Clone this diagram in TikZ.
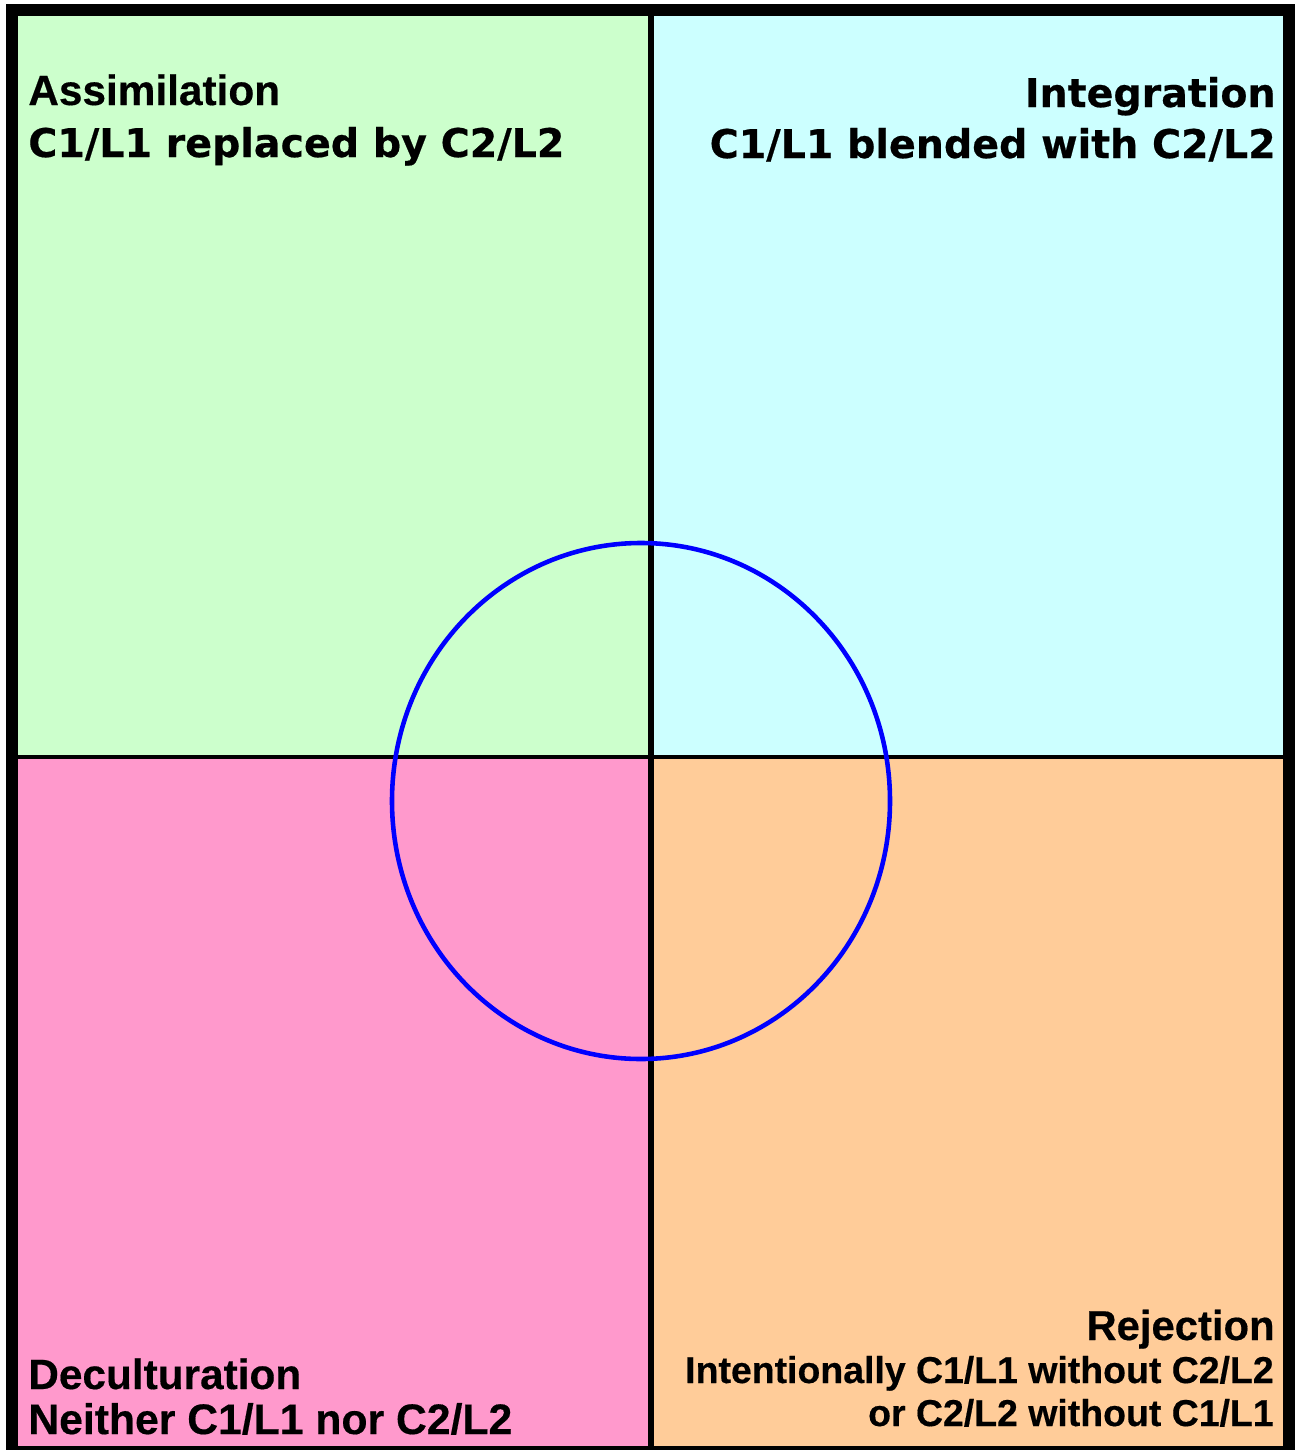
\documentclass[tikz,border=0pt]{standalone}
\usepackage{fontspec}
\setmainfont{Liberation Sans}[BoldFeatures={FakeBold=0.4}]
\newfontfamily\wideface{DejaVu Sans}[BoldFeatures={FakeBold=0.5}]
\definecolor{assimgreen}{HTML}{CCFFCC}
\definecolor{integcyan}{HTML}{CCFFFF}
\definecolor{deculpink}{HTML}{FF99CC}
\definecolor{rejectpeach}{HTML}{FFCC99}
\tikzset{
  lefttext/.style={anchor=base west, inner sep=0pt, font=\bfseries},
  righttext/.style={anchor=base east, inner sep=0pt, font=\bfseries},
}
\begin{document}
\begin{tikzpicture}[x=0.02cm, y=-0.02cm]
  \useasboundingbox (0,0) rectangle (1297,1450);
  \clip (0,0) rectangle (1297,1450);
  % quadrants
  \fill[assimgreen] (12,10) rectangle (651,757);
  \fill[integcyan] (651,10) rectangle (1289,757);
  \fill[deculpink] (12,757) rectangle (651,1452);
  \fill[rejectpeach] (651,757) rectangle (1289,1452);
  \draw[line width=3.3pt] (651,10) -- (651,1452);
  \draw[line width=2.8pt] (12,757) -- (1289,757);
  \draw[line width=6.8pt] (12,10) rectangle (1289,1452);
  \draw[blue, line width=2.6pt] (641,801) ellipse [x radius=249, y radius=258];
  % labels
  \node[lefttext, font=\bfseries\fontsize{24.1}{29}\selectfont] (assim) at (28,105) {Assimilation};
  \node[lefttext, font=\wideface\bfseries\fontsize{22.5}{27}\selectfont] (assimsub) at (28,157) {C1/L1 replaced by C2/L2};
  \node[righttext, font=\wideface\bfseries\fontsize{22.5}{27}\selectfont] (integ) at (1276,107) {Integration};
  \node[righttext, font=\wideface\bfseries\fontsize{22.5}{27}\selectfont] (integsub) at (1276,158) {C1/L1 blended with C2/L2};
  \node[righttext, font=\bfseries\fontsize{23.8}{28}\selectfont] (reject) at (1275,1340) {Rejection};
  \node[righttext, font=\bfseries\fontsize{21.3}{25}\selectfont] (rejectsub) at (1274,1383) {Intentionally C1/L1 without C2/L2};
  \node[righttext, font=\bfseries\fontsize{21.3}{25}\selectfont] (rejectsubb) at (1274,1426) {or C2/L2 without C1/L1};
  \node[lefttext, font=\bfseries\fontsize{24.1}{29}\selectfont] (decul) at (28,1389) {Deculturation};
  \node[lefttext, font=\bfseries\fontsize{24.3}{29}\selectfont] (deculsub) at (28,1434) {Neither C1/L1 nor C2/L2};
\end{tikzpicture}
\end{document}
